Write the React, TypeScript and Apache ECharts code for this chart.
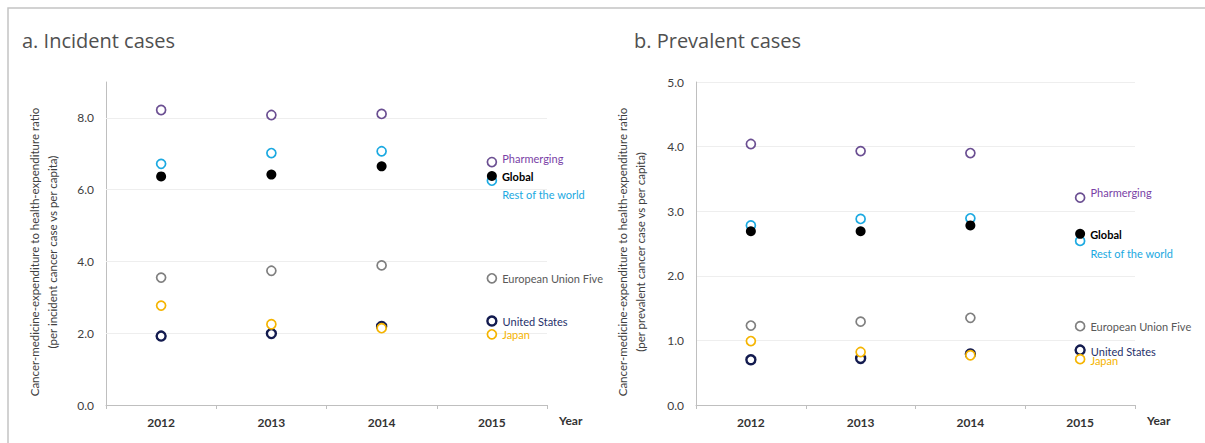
import React, { useEffect, useRef } from "react";
import * as echarts from "echarts";

const years = ["2012", "2013", "2014", "2015"];

const incidentPharmerging = [8.22, 8.08, 8.11, 6.77];
const incidentGlobal = [6.37, 6.42, 6.65, 6.38];
const incidentRestOfWorld = [6.72, 7.02, 7.07, 6.25];
const incidentEU5 = [3.55, 3.74, 3.89, 3.53];
const incidentUS = [1.92, 1.99, 2.19, 2.34];
const incidentJapan = [2.77, 2.25, 2.14, 1.97];

const prevalentPharmerging = [4.04, 3.93, 3.9, 3.21];
const prevalentGlobal = [2.69, 2.69, 2.78, 2.65];
const prevalentRestOfWorld = [2.78, 2.88, 2.89, 2.54];
const prevalentEU5 = [1.23, 1.29, 1.35, 1.22];
const prevalentUS = [0.7, 0.72, 0.79, 0.85];
const prevalentJapan = [0.99, 0.82, 0.77, 0.71];

const incidentTicks = [0, 2, 4, 6, 8];
const prevalentTicks = [0, 1, 2, 3, 4, 5];

const FONT = "Lato, 'Noto Sans', sans-serif";
const TITLE_FONT = "'Open Sans', 'Noto Sans', sans-serif";

type Style = {
  name: string;
  color: string;
  labelColor: string;
  filled?: boolean;
  bold?: boolean;
  border?: number;
  dyA: number;
  dyB: number;
};

const styles: Style[] = [
  { name: "Rest of the world", color: "#1ba9e1", labelColor: "#1ba9e1", dyA: 14, dyB: 13 },
  { name: "Pharmerging", color: "#6b4f92", labelColor: "#7a3fa6", dyA: -4, dyB: -5 },
  { name: "European Union Five", color: "#7f7f7f", labelColor: "#595959", dyA: 0, dyB: 0 },
  { name: "United States", color: "#131b4f", labelColor: "#26306a", border: 2.4, dyA: 0, dyB: 1 },
  { name: "Japan", color: "#f5b400", labelColor: "#f5b400", dyA: 0, dyB: 1 },
  { name: "Global", color: "#000000", labelColor: "#000000", filled: true, bold: true, dyA: 0, dyB: 1 },
];

const incidentByName: Record<string, number[]> = {
  "Rest of the world": incidentRestOfWorld,
  Pharmerging: incidentPharmerging,
  "European Union Five": incidentEU5,
  "United States": incidentUS,
  Japan: incidentJapan,
  Global: incidentGlobal,
};
const prevalentByName: Record<string, number[]> = {
  "Rest of the world": prevalentRestOfWorld,
  Pharmerging: prevalentPharmerging,
  "European Union Five": prevalentEU5,
  "United States": prevalentUS,
  Japan: prevalentJapan,
  Global: prevalentGlobal,
};

function buildSeries(idx: number, byName: Record<string, number[]>, which: "A" | "B") {
  return styles.map((s, si) => {
    const vals = byName[s.name];
    const data = vals.map((v, i) =>
      i === vals.length - 1
        ? {
            value: v,
            label: {
              show: true,
              position: "right",
              distance: 5,
              offset: [0, which === "A" ? s.dyA : s.dyB],
              formatter: s.name,
              color: s.labelColor,
              fontSize: 11,
              fontWeight: s.bold ? "bold" : "normal",
              fontFamily: FONT,
            },
          }
        : v
    );
    const series: any = {
      type: "scatter",
      name: s.name + which,
      xAxisIndex: idx,
      yAxisIndex: idx,
      symbol: "circle",
      symbolSize: s.filled ? 10 : 9,
      clip: false,
      itemStyle: s.filled
        ? { color: s.color, opacity: 1 }
        : { color: "#ffffff", borderColor: s.color, borderWidth: s.border ?? 1.7, opacity: 1 },
      emphasis: { disabled: true },
      data,
      z: 5 + si,
    };
    if (si === 0 && which === "A") {
      series.markLine = {
        silent: true,
        symbol: ["none", "none"],
        label: { show: false },
        lineStyle: { color: "#eeeeee", type: "solid", width: 1 },
        data: incidentTicks.filter((t) => t > 0).map((t) => ({ yAxis: t })),
        z: 1,
      };
    }
    return series;
  });
}

const xAxisBase = (gridIndex: number) => ({
  type: "category",
  gridIndex,
  data: years,
  boundaryGap: true,
  axisLine: { show: true, lineStyle: { color: "#bfbfbf", width: 1 } },
  axisTick: { show: true, length: 4, lineStyle: { color: "#bfbfbf" } },
  axisLabel: { fontWeight: "bold", fontSize: 12, color: "#333333", margin: 11, fontFamily: FONT },
  splitLine: { show: false },
  name: "Year",
  nameLocation: "end",
  nameGap: 12,
  nameTextStyle: {
    fontWeight: "bold",
    fontSize: 12,
    color: "#333333",
    fontFamily: FONT,
    verticalAlign: "top",
    padding: [9, 0, 0, 0],
  },
});

const yName = (kind: string) =>
  "Cancer-medicine-expenditure to health-expenditure ratio\n(per " + kind + " cancer case vs per capita)";

const yTitle = (x: number, kind: string) => ({
  type: "text",
  silent: true,
  x,
  y: 252,
  rotation: Math.PI / 2,
  style: {
    text: yName(kind),
    align: "center",
    verticalAlign: "middle",
    fontSize: 11.5,
    lineHeight: 18,
    fill: "#404040",
    fontFamily: FONT,
  },
});

export default function App() {
  const ref = useRef<HTMLDivElement>(null);
  useEffect(() => {
    if (!ref.current) return;
    const chart = echarts.init(ref.current, undefined, { renderer: "svg" });
    const option: any = {
      animation: false,
      backgroundColor: "#ffffff",
      title: [
        {
          text: "a. Incident cases",
          left: 22,
          top: 30,
          padding: 0,
          textStyle: { fontSize: 20, fontWeight: "normal", color: "#505050", fontFamily: TITLE_FONT },
        },
        {
          text: "b. Prevalent cases",
          left: 634,
          top: 30,
          padding: 0,
          textStyle: { fontSize: 20, fontWeight: "normal", color: "#505050", fontFamily: TITLE_FONT },
        },
      ],
      graphic: [
        {
          type: "rect",
          silent: true,
          z: -10,
          shape: { x: 8, y: 8, width: 1400, height: 800 },
          style: { fill: "none", stroke: "#c4c4c4", lineWidth: 1.5 },
        },
        yTitle(43, "incident"),
        yTitle(631, "prevalent"),
      ],
      grid: [
        { left: 106, right: 658, top: 82, bottom: 38 },
        { left: 696, right: 70, top: 82, bottom: 38 },
      ],
      xAxis: [xAxisBase(0), xAxisBase(1)],
      yAxis: [
        {
          type: "value",
          gridIndex: 0,
          min: 0,
          max: 9,
          interval: 1,
          axisLine: { show: true, lineStyle: { color: "#bfbfbf" } },
          axisTick: { show: false },
          splitLine: { show: false },
          axisLabel: {
            fontSize: 12,
            color: "#404040",
            margin: 12,
            fontFamily: FONT,
            formatter: (v: number) => (incidentTicks.includes(v) ? v.toFixed(1) : ""),
          },
        },
        {
          type: "value",
          gridIndex: 1,
          min: 0,
          max: 5,
          interval: 1,
          axisLine: { show: true, lineStyle: { color: "#bfbfbf" } },
          axisTick: { show: false },
          splitLine: { show: true, lineStyle: { color: "#eeeeee", width: 1 } },
          axisLabel: {
            fontSize: 12,
            color: "#404040",
            margin: 12,
            fontFamily: FONT,
            formatter: (v: number) => (prevalentTicks.includes(v) ? v.toFixed(1) : ""),
          },
        },
      ],
      series: [...buildSeries(0, incidentByName, "A"), ...buildSeries(1, prevalentByName, "B")],
    };
    chart.setOption(option);
    return () => chart.dispose();
  }, []);
  return (
    <div
      ref={ref}
      style={{ position: "fixed", left: 0, top: 0, width: 1205, height: 443, background: "#fff" }}
    />
  );
}
